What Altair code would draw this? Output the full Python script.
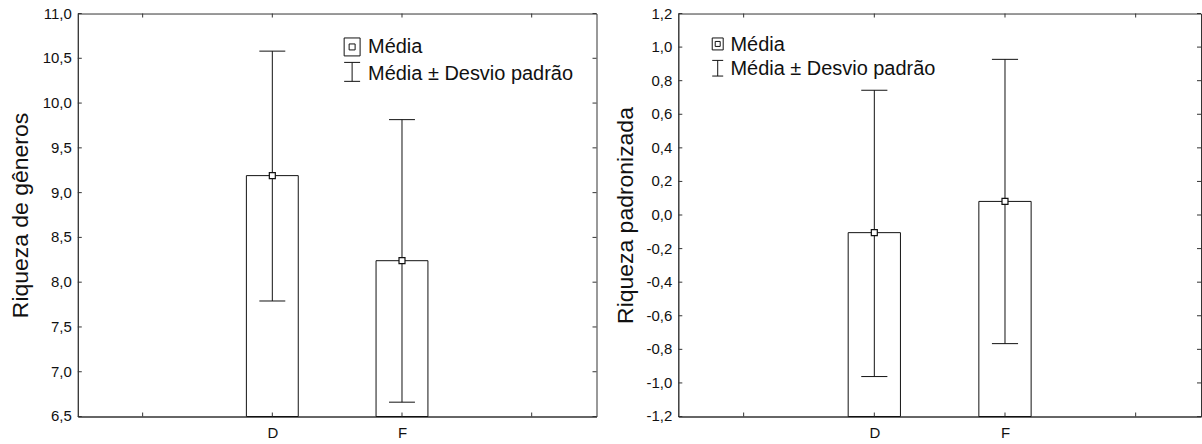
import altair as alt
import pandas as pd

# Groups and their slot positions on the category axis (4 slots, D and F in the middle)
groups = ["D", "F"]
group_pos = [2, 3]
slot_ticks = [1, 2, 3, 4]

# Riqueza de gêneros: mean and mean ± standard deviation
riqueza_mean = [9.19, 8.24]
riqueza_low = [7.79, 6.66]
riqueza_high = [10.58, 9.815]
riqueza_ticks = [6.5, 7.0, 7.5, 8.0, 8.5, 9.0, 9.5, 10.0, 10.5, 11.0]

# Riqueza padronizada: mean and mean ± standard deviation
padron_mean = [-0.105, 0.081]
padron_low = [-0.962, -0.766]
padron_high = [0.743, 0.927]
padron_ticks = [-1.2, -1.0, -0.8, -0.6, -0.4, -0.2, 0.0, 0.2, 0.4, 0.6, 0.8, 1.0, 1.2]

legend_labels = ["Média", "Média \u00b1 Desvio padrão"]

FONT = "Liberation Sans"
INK = "#111111"
H = 404

x_label_expr = " : ".join(
    f"datum.value == {p} ? '{g}'" for p, g in zip(group_pos, groups)
) + " : ''"

# tick labels with decimal comma and plain hyphen for negatives
y_label_calc = "replace(replace(format(datum.v, '.1f'), '.', ','), '\u2212', '-')"


def legend_layers(sym_x0, sym_x1, box_y0, box_y1, inner, beam_y0, beam_y1,
                  text_x, base1, base2):
    one = alt.Chart(pd.DataFrame({"k": [0]}))
    cx = (sym_x0 + sym_x1) / 2
    box = one.mark_rect(fill="white", stroke=INK, strokeWidth=1).encode(
        x=alt.value(sym_x0), x2=alt.value(sym_x1),
        y=alt.value(box_y0), y2=alt.value(box_y1))
    cy = (box_y0 + box_y1) / 2
    inner_sq = one.mark_rect(fill="white", stroke=INK, strokeWidth=1).encode(
        x=alt.value(cx - inner / 2), x2=alt.value(cx + inner / 2),
        y=alt.value(cy - inner / 2), y2=alt.value(cy + inner / 2))
    beam = one.mark_rule(stroke=INK, strokeWidth=1).encode(
        x=alt.value(cx), y=alt.value(beam_y0), y2=alt.value(beam_y1))
    cap_top = one.mark_rule(stroke=INK, strokeWidth=1).encode(
        x=alt.value(sym_x0), x2=alt.value(sym_x1), y=alt.value(beam_y0))
    cap_bot = one.mark_rule(stroke=INK, strokeWidth=1).encode(
        x=alt.value(sym_x0), x2=alt.value(sym_x1), y=alt.value(beam_y1))
    txt1 = one.mark_text(align="left", baseline="alphabetic", fontSize=20,
                         font=FONT, color=INK).encode(
        x=alt.value(text_x), y=alt.value(base1), text=alt.value(legend_labels[0]))
    txt2 = one.mark_text(align="left", baseline="alphabetic", fontSize=20,
                         font=FONT, color=INK).encode(
        x=alt.value(text_x), y=alt.value(base2), text=alt.value(legend_labels[1]))
    return [box, inner_sq, beam, cap_top, cap_bot, txt1, txt2]


def panel(mean, low, high, ticks, title, width, title_gap, legend):
    df = pd.DataFrame({"grupo": groups, "pos": group_pos,
                       "media": mean, "inf": low, "sup": high})
    ymin, ymax = ticks[0], ticks[-1]
    xs = alt.Scale(domain=[0.5, 4.5], nice=False, zero=False)
    ys = alt.Scale(domain=[ymin, ymax], nice=False, zero=False)

    x_axis = alt.Axis(values=slot_ticks, labelExpr=x_label_expr, ticks=False,
                      grid=False, title=None, labelFontSize=15, labelPadding=9,
                      labelFont=FONT, domainColor="#333", labelColor=INK,
                      labelOverlap=False)
    # y tick labels are drawn as a text layer below; the axis keeps line and title
    y_axis = alt.Axis(values=ticks, ticks=False, grid=False, labels=False,
                      title=title, titleFontSize=23, titleFontWeight="normal",
                      titleFont=FONT, titlePadding=title_gap, domainColor="#333",
                      titleColor=INK)

    base = alt.Chart(df)
    bars = base.transform_calculate(
        x0="datum.pos - 0.2", x1="datum.pos + 0.2"
    ).mark_bar(fill="white", stroke=INK, strokeWidth=1).encode(
        x=alt.X("x0:Q", scale=xs, axis=x_axis),
        x2="x1:Q",
        y=alt.Y("media:Q", scale=ys, axis=y_axis),
        y2=alt.datum(ymin),
    )
    whisker = base.mark_rule(stroke=INK, strokeWidth=1).encode(
        x="pos:Q", y="inf:Q", y2="sup:Q")
    caps = base.transform_fold(["inf", "sup"], as_=["lado", "valor"]).transform_calculate(
        c0="datum.pos - 0.1", c1="datum.pos + 0.1"
    ).mark_rule(stroke=INK, strokeWidth=1).encode(
        x="c0:Q", x2="c1:Q", y="valor:Q")
    marker = base.mark_square(size=36, fill="white", stroke=INK, strokeWidth=1.2,
                              opacity=1).encode(x="pos:Q", y="media:Q")

    # inward ticks on all four sides of the frame, and the y tick labels
    ytk = alt.Chart(pd.DataFrame({"v": ticks}))
    xtk = alt.Chart(pd.DataFrame({"p": slot_ticks}))
    t_left = ytk.mark_rule(stroke="#333").encode(
        y="v:Q", x=alt.value(0), x2=alt.value(4))
    t_right = ytk.mark_rule(stroke="#333").encode(
        y="v:Q", x=alt.value(width - 4), x2=alt.value(width))
    t_top = xtk.mark_rule(stroke="#333").encode(
        x="p:Q", y=alt.value(0), y2=alt.value(4))
    t_bot = xtk.mark_rule(stroke="#333").encode(
        x="p:Q", y=alt.value(H - 4), y2=alt.value(H))
    y_labels = ytk.transform_calculate(rotulo=y_label_calc).mark_text(
        align="right", baseline="middle", fontSize=15, font=FONT, color=INK
    ).encode(y="v:Q", x=alt.value(-6), text="rotulo:N")

    layers = [bars, whisker, caps, marker, t_left, t_right, t_top, t_bot,
              y_labels] + legend
    return alt.layer(*layers).properties(width=width, height=H)


left = panel(riqueza_mean, riqueza_low, riqueza_high, riqueza_ticks,
             "Riqueza de gêneros", 520, 45,
             legend_layers(267, 283, 24.5, 42.5, 6, 49, 68, 291, 39.5, 66.3))
right = panel(padron_mean, padron_low, padron_high, padron_ticks,
              "Riqueza padronizada", 524, 41,
              legend_layers(34, 45, 24.5, 36.5, 5, 47, 62.7, 52.3, 37.7, 62))

chart = alt.hconcat(left, right, spacing=16).properties(
    padding={"left": 9, "top": 5, "right": 0, "bottom": 0},
    background="white",
).configure_view(stroke="#333", strokeWidth=1)

chart.save("out.html", embed_options={"renderer": "svg", "actions": False})
